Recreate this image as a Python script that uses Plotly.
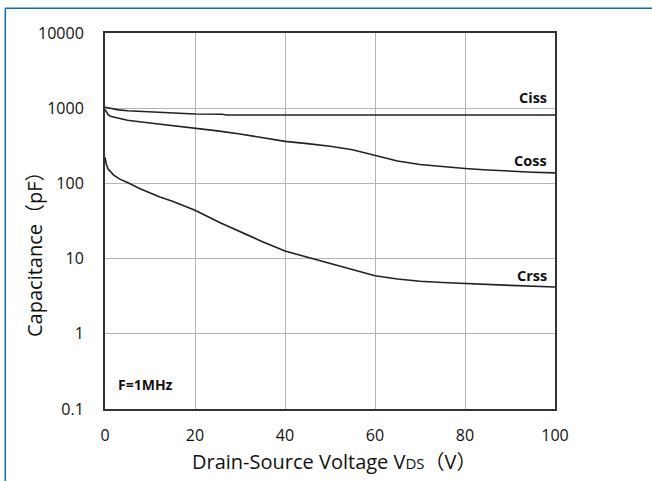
import plotly.graph_objects as go

ciss_v = [0, 1, 3, 5, 10, 15, 20, 26, 27, 40, 60, 80, 100]
ciss_c = [1030, 1000, 950, 925, 895, 860, 837, 832, 812, 812, 812, 812, 812]

coss_v = [0, 0.3, 0.7, 1.2, 2, 5, 10, 15, 20, 25, 30, 35, 40, 45, 50, 55, 60, 65, 70, 75, 80, 85, 90, 95, 100]
coss_c = [960, 880, 820, 780, 760, 690, 635, 590, 545, 500, 454, 409, 362, 338, 312, 280, 235, 198, 178, 167, 158, 151, 145, 141, 138]

crss_v = [0, 0.3, 0.7, 1.1, 2, 3.3, 5, 7.8, 10, 12.2, 15, 20, 25.6, 30, 32.2, 35, 40, 47, 54, 60, 65, 70, 75, 80, 90, 100]
crss_c = [222, 180, 155, 145, 128, 114, 103, 85, 75, 66, 58, 44, 30, 22.8, 19.8, 16.8, 12.6, 9.6, 7.3, 5.9, 5.35, 5.0, 4.8, 4.65, 4.4, 4.2]

x_ticks = [0, 20, 40, 60, 80, 100]
y_ticks = [0.1, 1, 10, 100, 1000, 10000]
y_tick_text = ["0.1", "1", "10", "100", "1000", "10000"]

labels = [("Ciss", 3.136), ("Coss", 2.298), ("Crss", 0.773)]

fig = go.Figure()
for v, c in [(ciss_v, ciss_c), (coss_v, coss_c), (crss_v, crss_c)]:
    fig.add_trace(go.Scatter(x=v, y=c, mode="lines",
                             line=dict(color="#222222", width=1.6),
                             showlegend=False, hoverinfo="skip"))

font_main = "Open Sans, Lato, DejaVu Sans, sans-serif"
cjk = "<span style='font-family:Noto Sans CJK SC'>%s</span>"

fig.update_layout(
    width=652, height=481,
    margin=dict(l=105, r=97, t=33, b=72),
    paper_bgcolor="white", plot_bgcolor="white",
    font=dict(family=font_main, color="#111111"),
    xaxis=dict(range=[0, 100], tickvals=x_ticks, showgrid=True,
               gridcolor="#b4b4b4", gridwidth=1.2, zeroline=False,
               showline=True, linecolor="#333333", linewidth=2, mirror=True,
               ticks="", tickfont=dict(size=16), ticklabelstandoff=11),
    yaxis=dict(type="log", range=[-1, 4], tickvals=y_ticks, ticktext=y_tick_text,
               showgrid=True, gridcolor="#b4b4b4", gridwidth=1.2, zeroline=False,
               showline=True, linecolor="#333333", linewidth=2, mirror=True,
               ticks="", tickfont=dict(size=16), ticklabelstandoff=16),
)

def px_x(px):
    return (px - 105) / 450

def px_y(py):
    return (409 - py) / 376

# axis titles
fig.add_annotation(x=px_x(334), y=px_y(460), xref="paper", yref="paper",
                   text="Drain-Source Voltage V<span style='font-size:15px'>DS</span>"
                        + cjk % "（" + "V" + cjk % "）",
                   showarrow=False, xanchor="center", yanchor="middle",
                   font=dict(size=20, family=font_main, color="#111111"))
fig.add_annotation(x=px_x(33), y=px_y(249), xref="paper", yref="paper",
                   text="Capacitance" + cjk % "（" + "pF" + cjk % "）", textangle=-90,
                   showarrow=False, xanchor="center", yanchor="middle",
                   font=dict(size=20, family=font_main, color="#111111"))

for name, ly in labels:
    fig.add_annotation(x=98.7, y=ly, xref="x", yref="y", text="<b>%s</b>" % name,
                       showarrow=False, xanchor="right", yanchor="middle",
                       font=dict(size=14.5, family=font_main, color="#111111"))
fig.add_annotation(x=2.4, y=-0.668, xref="x", yref="y", text="<b>F=1MHz</b>",
                   showarrow=False, xanchor="left", yanchor="middle",
                   font=dict(size=14, family=font_main, color="#111111"))

# blue frame lines (top and left)
x0 = px_x(5.3)
x1 = px_x(652)
yt = px_y(8.3)
yb = px_y(481)
fig.add_shape(type="line", xref="paper", yref="paper", x0=x0, x1=x1, y0=yt, y1=yt,
              line=dict(color="#0070C0", width=1.5))
fig.add_shape(type="line", xref="paper", yref="paper", x0=x0, x1=x0, y0=yt, y1=yb,
              line=dict(color="#0070C0", width=1.5))

fig.write_html("out.html", config={"displayModeBar": False},
               post_script="document.body.style.margin='0';document.body.style.overflow='hidden';")
